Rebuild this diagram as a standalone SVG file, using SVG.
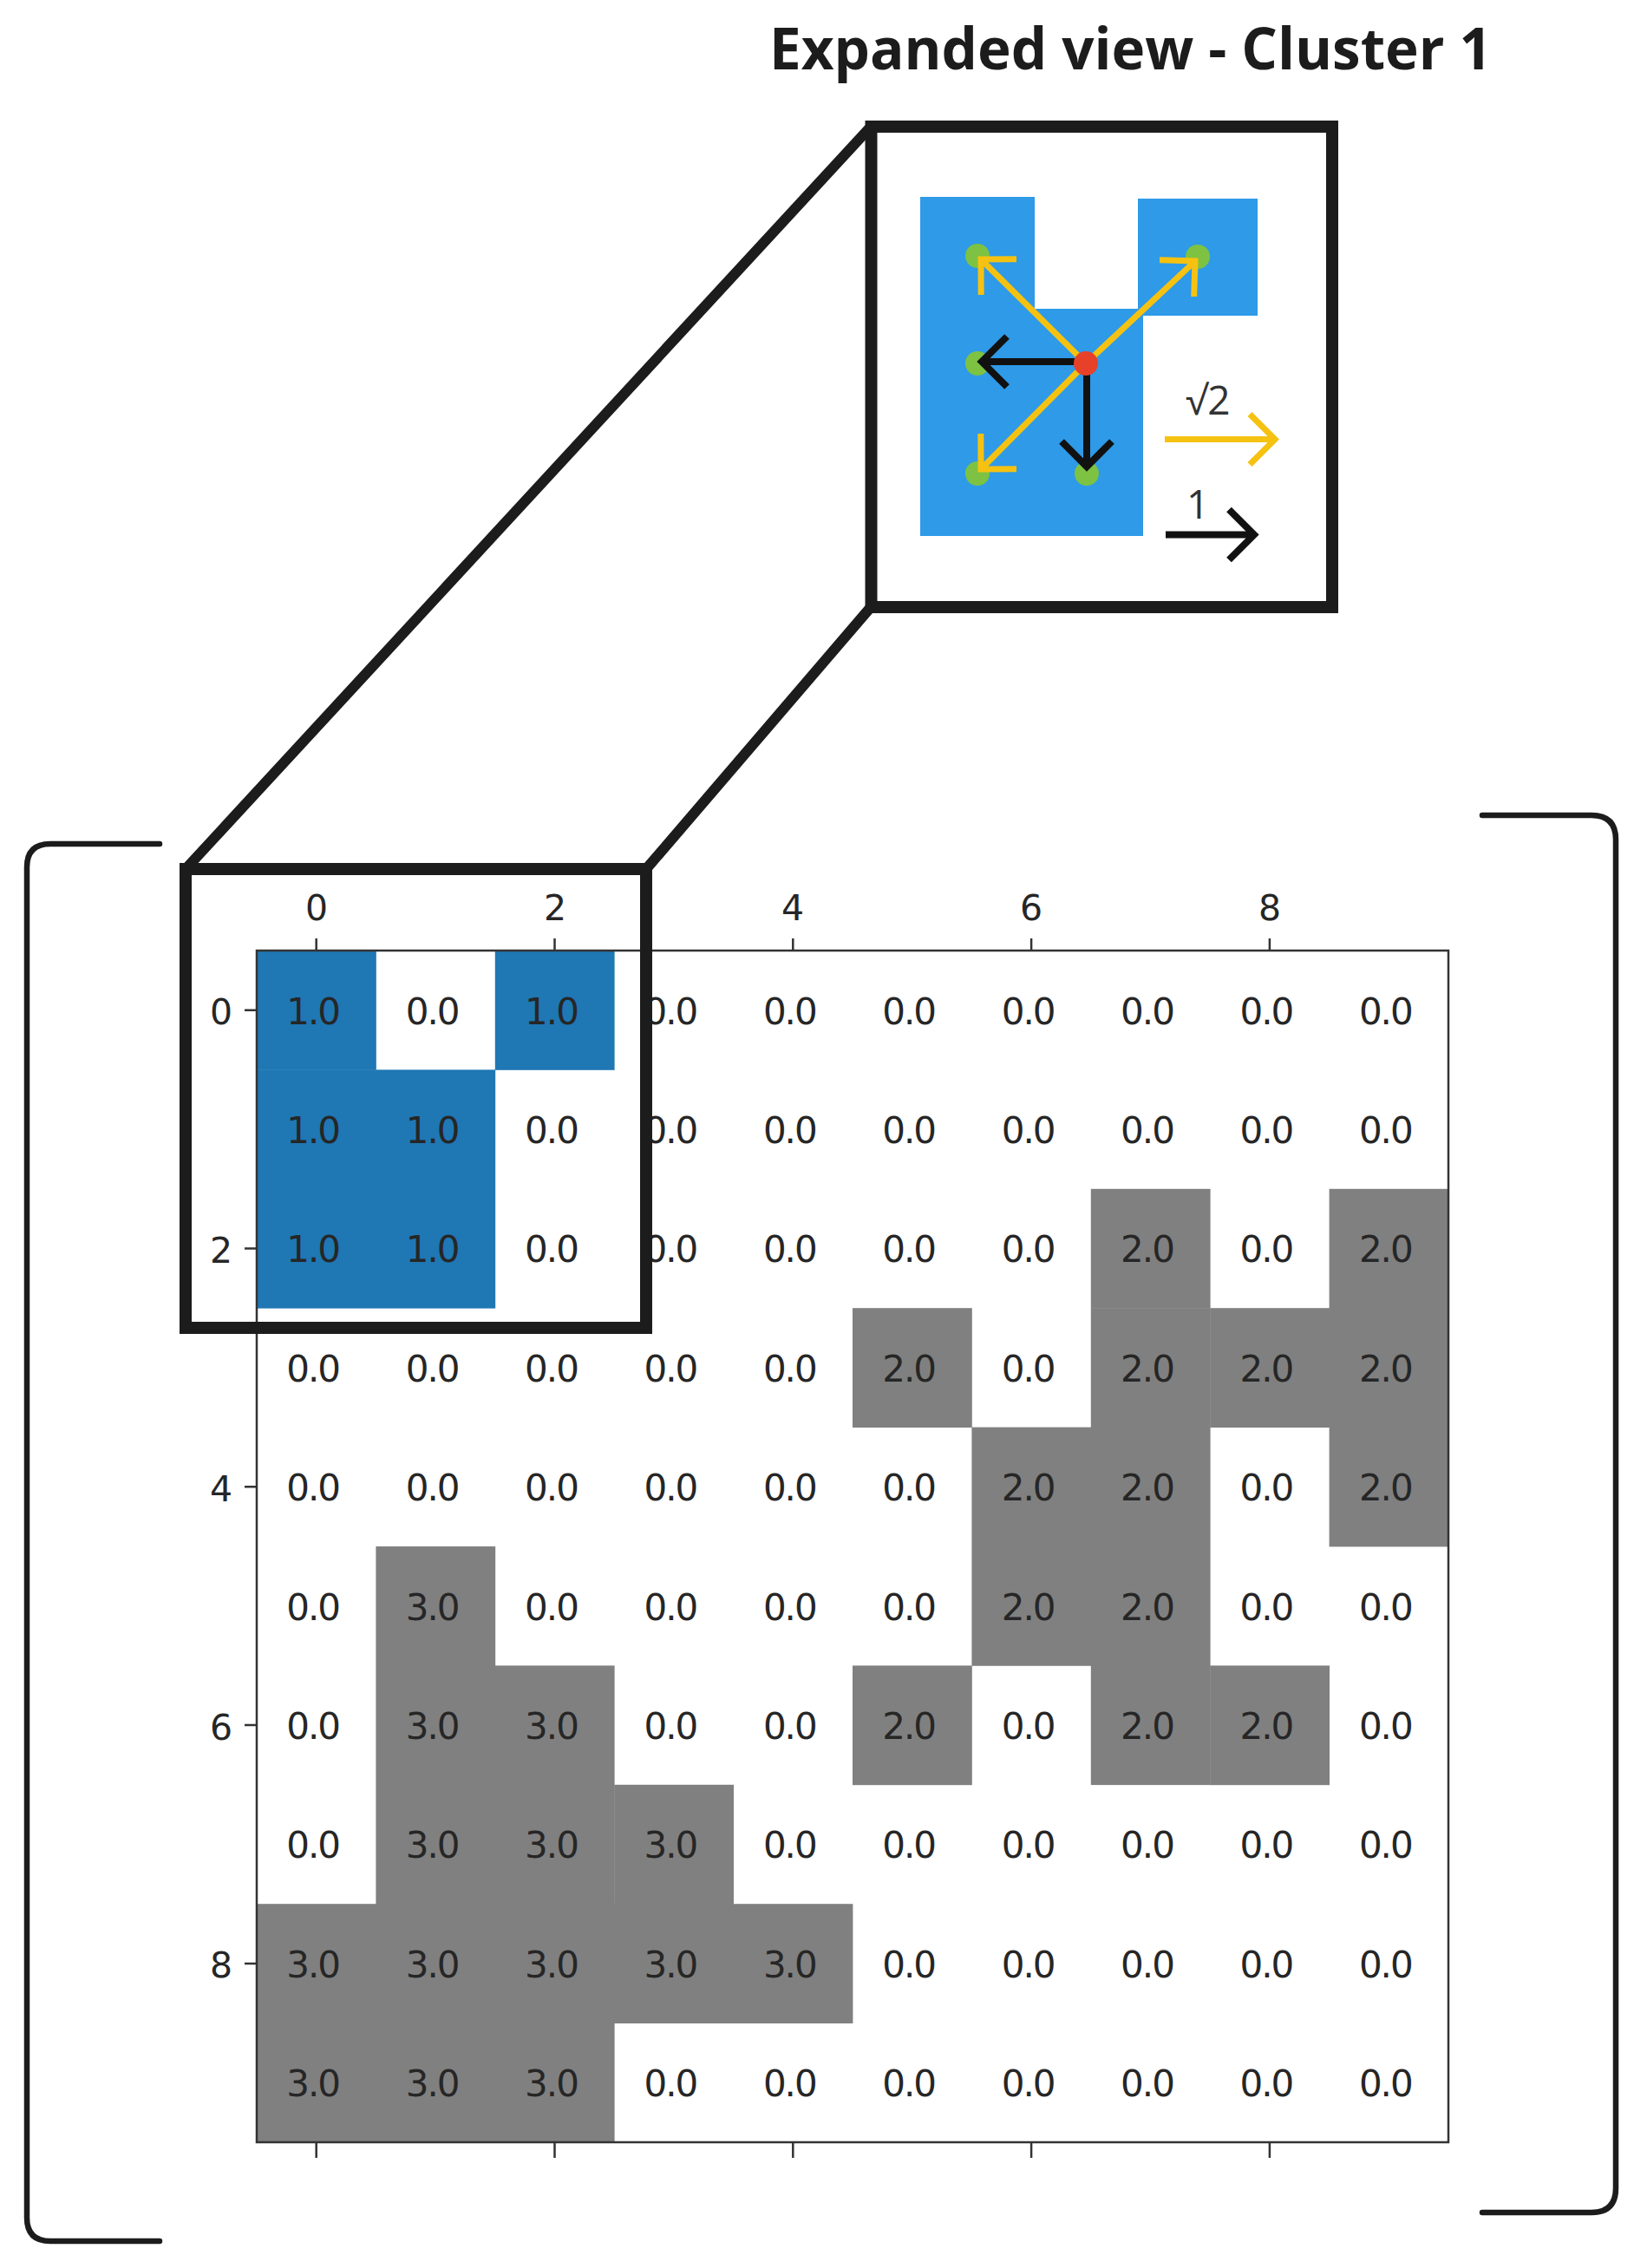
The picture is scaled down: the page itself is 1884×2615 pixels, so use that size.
<svg xmlns="http://www.w3.org/2000/svg" width="1884" height="2615" viewBox="0 0 1884 2615">
<style>
.title{font-family:"Open Sans","Noto Sans",sans-serif;font-weight:700;font-size:65.5px;fill:#1c1c1c}
.leg{font-family:"Open Sans","Noto Sans",sans-serif;font-size:46px;fill:#333}
.ct{font-family:"DejaVu Sans",sans-serif;font-size:42px;fill:#262626;text-anchor:middle;letter-spacing:-2px}
.ax{font-family:"DejaVu Sans",sans-serif;font-size:41px;fill:#262626;text-anchor:middle}
.blue{fill:#1f77b4}
.gray{fill:#808080}
.tick{stroke:#333;stroke-width:2.5}
.frame{fill:none;stroke:#1c1c1c;stroke-width:14}
.conn{fill:none;stroke:#1c1c1c;stroke-width:12;stroke-linecap:round}
.brk{fill:none;stroke:#1c1c1c;stroke-width:6.5;stroke-linecap:round}
.ya{stroke:#f5c211;stroke-width:7;fill:none}
.ba{stroke:#111;stroke-width:8;fill:none}
.g{fill:#7dc242}
</style>
<defs>
<marker id="yhead" markerUnits="userSpaceOnUse" viewBox="-40 -40 50 80" markerWidth="50" markerHeight="80" refX="0" refY="0" orient="auto" overflow="visible">
<path d="M-29,-29 L0,0 L-29,29" fill="none" stroke="#f5c211" stroke-width="7"/>
</marker>
<marker id="bhead" markerUnits="userSpaceOnUse" viewBox="-40 -40 50 80" markerWidth="50" markerHeight="80" refX="0" refY="0" orient="auto" overflow="visible">
<path d="M-29,-29 L0,0 L-29,29" fill="none" stroke="#111" stroke-width="8"/>
</marker>
</defs>
<rect width="1884" height="2615" fill="#fff"/>

<g id="title"><text class="title" x="887" y="80">Expanded view - Cluster 1</text></g>

<g id="brackets">
<path class="brk" d="M184,973 H58 Q31,973 31,1000 V2557 Q31,2584 58,2584 H184"/>
<path class="brk" d="M1709,940 H1835 Q1863,940 1863,968 V2523 Q1863,2551 1835,2551 H1709"/>
</g>

<g id="matrix">
<g id="cells">
<rect class="blue" x="296" y="1096" width="137.8" height="137.8"/>
<rect class="blue" x="570.8" y="1096" width="137.8" height="137.8"/>
<rect class="blue" x="296" y="1233.4" width="275.2" height="275.2"/>
<rect class="gray" x="1257.8" y="1370.8" width="137.8" height="137.8"/>
<rect class="gray" x="1532.6" y="1370.8" width="137.4" height="412.6"/>
<rect class="gray" x="983" y="1508.2" width="137.8" height="137.8"/>
<rect class="gray" x="1257.8" y="1508.2" width="137.8" height="549.9"/>
<rect class="gray" x="1395.2" y="1508.2" width="137.8" height="137.8"/>
<rect class="gray" x="1120.4" y="1645.6" width="137.8" height="275.2"/>
<rect class="gray" x="433.4" y="1783" width="137.8" height="549.9"/>
<rect class="gray" x="570.8" y="1920.4" width="137.8" height="412.6"/>
<rect class="gray" x="983" y="1920.4" width="137.8" height="137.8"/>
<rect class="gray" x="1395.2" y="1920.4" width="137.8" height="137.8"/>
<rect class="gray" x="708.2" y="2057.8" width="137.8" height="275.2"/>
<rect class="gray" x="296" y="2195.2" width="687.4" height="137.8"/>
<rect class="gray" x="296" y="2332.6" width="412.6" height="137.4"/>
</g>
<g id="values" transform="translate(-4,0)">
<g transform="translate(0,1180.5)"><text class="ct" x="364.7">1.0</text><text class="ct" x="502.1">0.0</text><text class="ct" x="639.5">1.0</text><text class="ct" x="776.9">0.0</text><text class="ct" x="914.3">0.0</text><text class="ct" x="1051.7">0.0</text><text class="ct" x="1189.1">0.0</text><text class="ct" x="1326.5">0.0</text><text class="ct" x="1463.9">0.0</text><text class="ct" x="1601.3">0.0</text></g>
<g transform="translate(0,1317.9)"><text class="ct" x="364.7">1.0</text><text class="ct" x="502.1">1.0</text><text class="ct" x="639.5">0.0</text><text class="ct" x="776.9">0.0</text><text class="ct" x="914.3">0.0</text><text class="ct" x="1051.7">0.0</text><text class="ct" x="1189.1">0.0</text><text class="ct" x="1326.5">0.0</text><text class="ct" x="1463.9">0.0</text><text class="ct" x="1601.3">0.0</text></g>
<g transform="translate(0,1455.3)"><text class="ct" x="364.7">1.0</text><text class="ct" x="502.1">1.0</text><text class="ct" x="639.5">0.0</text><text class="ct" x="776.9">0.0</text><text class="ct" x="914.3">0.0</text><text class="ct" x="1051.7">0.0</text><text class="ct" x="1189.1">0.0</text><text class="ct" x="1326.5">2.0</text><text class="ct" x="1463.9">0.0</text><text class="ct" x="1601.3">2.0</text></g>
<g transform="translate(0,1592.7)"><text class="ct" x="364.7">0.0</text><text class="ct" x="502.1">0.0</text><text class="ct" x="639.5">0.0</text><text class="ct" x="776.9">0.0</text><text class="ct" x="914.3">0.0</text><text class="ct" x="1051.7">2.0</text><text class="ct" x="1189.1">0.0</text><text class="ct" x="1326.5">2.0</text><text class="ct" x="1463.9">2.0</text><text class="ct" x="1601.3">2.0</text></g>
<g transform="translate(0,1730.1)"><text class="ct" x="364.7">0.0</text><text class="ct" x="502.1">0.0</text><text class="ct" x="639.5">0.0</text><text class="ct" x="776.9">0.0</text><text class="ct" x="914.3">0.0</text><text class="ct" x="1051.7">0.0</text><text class="ct" x="1189.1">2.0</text><text class="ct" x="1326.5">2.0</text><text class="ct" x="1463.9">0.0</text><text class="ct" x="1601.3">2.0</text></g>
<g transform="translate(0,1867.5)"><text class="ct" x="364.7">0.0</text><text class="ct" x="502.1">3.0</text><text class="ct" x="639.5">0.0</text><text class="ct" x="776.9">0.0</text><text class="ct" x="914.3">0.0</text><text class="ct" x="1051.7">0.0</text><text class="ct" x="1189.1">2.0</text><text class="ct" x="1326.5">2.0</text><text class="ct" x="1463.9">0.0</text><text class="ct" x="1601.3">0.0</text></g>
<g transform="translate(0,2004.9)"><text class="ct" x="364.7">0.0</text><text class="ct" x="502.1">3.0</text><text class="ct" x="639.5">3.0</text><text class="ct" x="776.9">0.0</text><text class="ct" x="914.3">0.0</text><text class="ct" x="1051.7">2.0</text><text class="ct" x="1189.1">0.0</text><text class="ct" x="1326.5">2.0</text><text class="ct" x="1463.9">2.0</text><text class="ct" x="1601.3">0.0</text></g>
<g transform="translate(0,2142.3)"><text class="ct" x="364.7">0.0</text><text class="ct" x="502.1">3.0</text><text class="ct" x="639.5">3.0</text><text class="ct" x="776.9">3.0</text><text class="ct" x="914.3">0.0</text><text class="ct" x="1051.7">0.0</text><text class="ct" x="1189.1">0.0</text><text class="ct" x="1326.5">0.0</text><text class="ct" x="1463.9">0.0</text><text class="ct" x="1601.3">0.0</text></g>
<g transform="translate(0,2279.7)"><text class="ct" x="364.7">3.0</text><text class="ct" x="502.1">3.0</text><text class="ct" x="639.5">3.0</text><text class="ct" x="776.9">3.0</text><text class="ct" x="914.3">3.0</text><text class="ct" x="1051.7">0.0</text><text class="ct" x="1189.1">0.0</text><text class="ct" x="1326.5">0.0</text><text class="ct" x="1463.9">0.0</text><text class="ct" x="1601.3">0.0</text></g>
<g transform="translate(0,2417.1)"><text class="ct" x="364.7">3.0</text><text class="ct" x="502.1">3.0</text><text class="ct" x="639.5">3.0</text><text class="ct" x="776.9">0.0</text><text class="ct" x="914.3">0.0</text><text class="ct" x="1051.7">0.0</text><text class="ct" x="1189.1">0.0</text><text class="ct" x="1326.5">0.0</text><text class="ct" x="1463.9">0.0</text><text class="ct" x="1601.3">0.0</text></g>
</g>
<g id="axes">
<rect x="296" y="1096" width="1374" height="1374" fill="none" stroke="#333" stroke-width="2.5"/>
<path class="tick" d="M364.7,1082V1096M639.5,1082V1096M914.3,1082V1096M1189.1,1082V1096M1463.9,1082V1096"/>
<path class="tick" d="M364.7,2470V2488M639.5,2470V2488M914.3,2470V2488M1189.1,2470V2488M1463.9,2470V2488"/>
<path class="tick" d="M282,1164.7H296M282,1439.5H296M282,1714.3H296M282,1989.1H296M282,2263.9H296"/>
<text class="ax" x="365" y="1061">0</text>
<text class="ax" x="640" y="1061">2</text>
<text class="ax" x="914" y="1061">4</text>
<text class="ax" x="1189" y="1061">6</text>
<text class="ax" x="1464" y="1061">8</text>
<text class="ax" x="255" y="1181">0</text>
<text class="ax" x="255" y="1456">2</text>
<text class="ax" x="255" y="1731">4</text>
<text class="ax" x="255" y="2006">6</text>
<text class="ax" x="255" y="2280">8</text>
</g>
</g>

<g id="connectors">
<line class="conn" x1="214" y1="1002" x2="1004" y2="146"/>
<line class="conn" x1="745" y1="1002" x2="1004" y2="700"/>
</g>

<g id="selection-box">
<rect class="frame" x="214" y="1002" width="531" height="529"/>
</g>

<g id="expanded-view">
<rect class="frame" x="1004.5" y="146" width="531.5" height="554" fill="#fff"/>
<path d="M1061,227 H1193 V356 H1318 V618 H1061 Z" fill="#2e9ae8"/>
<rect x="1312" y="229" width="138" height="135" fill="#2e9ae8"/>
<circle class="g" cx="1127" cy="295" r="14"/>
<circle class="g" cx="1381" cy="296" r="14"/>
<circle class="g" cx="1127" cy="419" r="14"/>
<circle class="g" cx="1127" cy="546" r="14"/>
<circle class="g" cx="1253" cy="546" r="14"/>
<line class="ya" x1="1252" y1="419" x2="1131" y2="299" marker-end="url(#yhead)"/>
<line class="ya" x1="1252" y1="419" x2="1378" y2="301" marker-end="url(#yhead)"/>
<line class="ya" x1="1252" y1="419" x2="1131" y2="541" marker-end="url(#yhead)"/>
<line class="ba" x1="1240" y1="417" x2="1132" y2="417" marker-end="url(#bhead)"/>
<line class="ba" x1="1253" y1="426" x2="1253" y2="538" marker-end="url(#bhead)"/>
<circle cx="1252" cy="419" r="14" fill="#e8412a"/>
<line class="ya" x1="1343" y1="506.5" x2="1470" y2="506.5" marker-end="url(#yhead)"/>
<text class="leg" x="1367" y="478">√2</text>
<line class="ba" x1="1344" y1="616.5" x2="1446" y2="616.5" marker-end="url(#bhead)"/>
<text class="leg" x="1368" y="598">1</text>
</g>
</svg>
